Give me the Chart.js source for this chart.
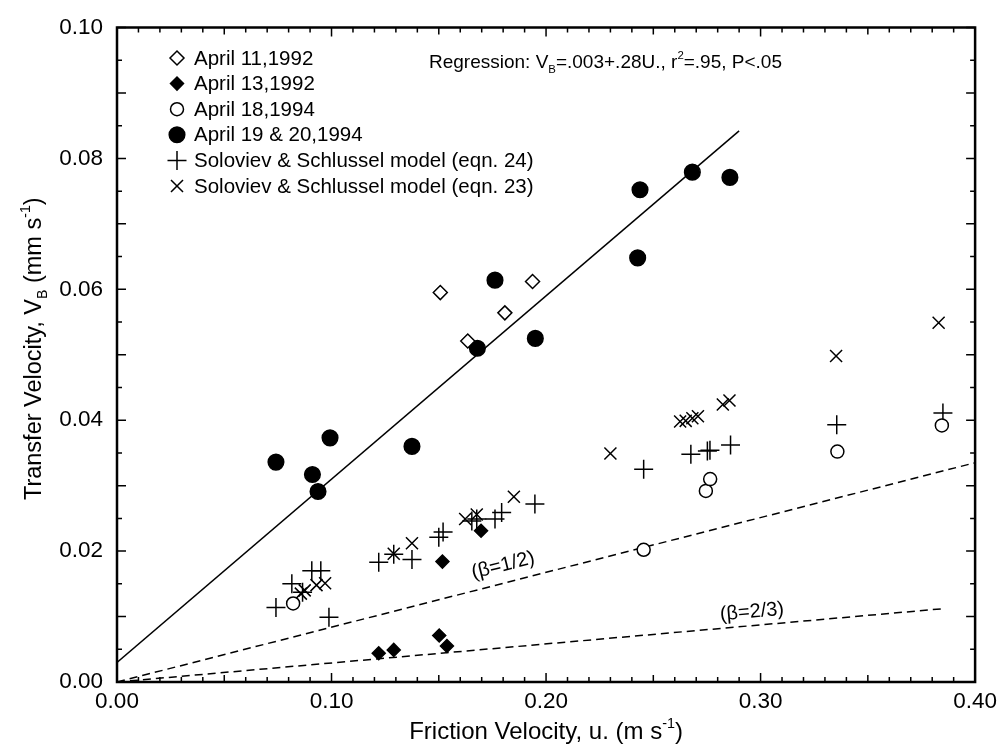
<!DOCTYPE html>
<html>
<head>
<meta charset="utf-8">
<script src="https://cdn.jsdelivr.net/npm/chart.js@4.4.1/dist/chart.umd.min.js"></script>
<style>
    body { margin: 0; background: #fff; }
    #wrap { width: 1003px; height: 746px; }
</style>
</head>
<body>
<div id="wrap"><canvas id="vbChart" width="1003" height="746"></canvas></div>
<script>

// April 11, 1992 (open diamonds)
const apr11 = [
    { x: 0.1507, y: 0.0595 }, { x: 0.1635, y: 0.0521 },
    { x: 0.1808, y: 0.0564 }, { x: 0.1937, y: 0.0612 }
];

// April 13, 1992 (filled diamonds)
const apr13 = [
    { x: 0.1220, y: 0.0044 }, { x: 0.1290, y: 0.0049 }, { x: 0.1502, y: 0.0071 },
    { x: 0.1538, y: 0.0055 }, { x: 0.1517, y: 0.0184 }, { x: 0.1697, y: 0.0231 }
];

// April 18, 1994 (open circles)
const apr18 = [
    { x: 0.0821, y: 0.0120 }, { x: 0.2455, y: 0.0202 }, { x: 0.2745, y: 0.0292 },
    { x: 0.2765, y: 0.0310 }, { x: 0.3358, y: 0.0352 }, { x: 0.3845, y: 0.0392 }
];

// April 19 & 20, 1994 (filled circles)
const apr1920 = [
    { x: 0.0741, y: 0.0336 }, { x: 0.0911, y: 0.0317 }, { x: 0.0937, y: 0.0291 },
    { x: 0.0993, y: 0.0373 }, { x: 0.1375, y: 0.0360 }, { x: 0.1680, y: 0.0510 },
    { x: 0.1762, y: 0.0614 }, { x: 0.1950, y: 0.0525 }, { x: 0.2427, y: 0.0648 },
    { x: 0.2438, y: 0.0752 }, { x: 0.2682, y: 0.0779 }, { x: 0.2857, y: 0.0771 }
];

// Soloviev & Schlussel model, eqn. 24 (plus)
const model24 = [
    { x: 0.0741, y: 0.0114 }, { x: 0.0815, y: 0.0150 }, { x: 0.0865, y: 0.0137 },
    { x: 0.0908, y: 0.0170 }, { x: 0.0950, y: 0.0170 }, { x: 0.0988, y: 0.0099 },
    { x: 0.1220, y: 0.0183 }, { x: 0.1290, y: 0.0195 }, { x: 0.1375, y: 0.0187 },
    { x: 0.1500, y: 0.0221 }, { x: 0.1520, y: 0.0229 }, { x: 0.1654, y: 0.0246 },
    { x: 0.1677, y: 0.0249 }, { x: 0.1762, y: 0.0249 }, { x: 0.1793, y: 0.0259 },
    { x: 0.1948, y: 0.0272 }, { x: 0.2455, y: 0.0325 }, { x: 0.2675, y: 0.0348 },
    { x: 0.2752, y: 0.0353 }, { x: 0.2764, y: 0.0354 }, { x: 0.2860, y: 0.0362 },
    { x: 0.3355, y: 0.0393 }, { x: 0.3850, y: 0.0411 }
];

// Soloviev & Schlussel model, eqn. 23 (x)
const model23 = [
    { x: 0.0857, y: 0.0135 }, { x: 0.0875, y: 0.0140 }, { x: 0.0930, y: 0.0148 },
    { x: 0.0970, y: 0.0151 }, { x: 0.1290, y: 0.0196 }, { x: 0.1375, y: 0.0212 },
    { x: 0.1623, y: 0.0249 }, { x: 0.1677, y: 0.0256 }, { x: 0.1850, y: 0.0283 },
    { x: 0.2300, y: 0.0349 }, { x: 0.2625, y: 0.0398 }, { x: 0.2651, y: 0.0399 },
    { x: 0.2682, y: 0.0403 }, { x: 0.2708, y: 0.0406 }, { x: 0.2824, y: 0.0424 },
    { x: 0.2855, y: 0.0430 }, { x: 0.3352, y: 0.0498 }, { x: 0.3830, y: 0.0549 }
];

// regression line and the two beta curves
const regressionLine = [{ x: 0, y: 0.0030 }, { x: 0.29, y: 0.0842 }];
const betaHalf = [{ x: 0, y: 0 }, { x: 0.40, y: 0.0335 }];
const betaTwoThirds = [{ x: 0, y: 0 }, { x: 0.385, y: 0.0112 }];

const xTickValues = [0, 0.1, 0.2, 0.3, 0.4];
const xTickLabels = ["0.00", "0.10", "0.20", "0.30", "0.40"];
const yTickValues = [0, 0.02, 0.04, 0.06, 0.08, 0.10];
const yTickLabels = ["0.00", "0.02", "0.04", "0.06", "0.08", "0.10"];

const legendLabels = [
    "April 11,1992",
    "April 13,1992",
    "April 18,1994",
    "April 19 & 20,1994",
    "Soloviev & Schlussel model (eqn. 24)",
    "Soloviev & Schlussel model (eqn. 23)"
];

const FONT = '"Liberation Sans", Arial, Helvetica, sans-serif';

function drawRich(ctx, parts, x, y, size, align) {
    // parts: [text, mode] with mode 0 normal, 1 subscript, 2 superscript
    let total = 0;
    parts.forEach(p => {
        ctx.font = (p[1] ? size * 0.6 : size) + "px " + FONT;
        total += ctx.measureText(p[0]).width;
    });
    let cx = align === "center" ? x - total / 2 : x;
    ctx.textAlign = "left";
    ctx.textBaseline = "alphabetic";
    parts.forEach(p => {
        const s = p[1] ? size * 0.6 : size;
        ctx.font = s + "px " + FONT;
        const dy = p[1] === 1 ? size * 0.25 : (p[1] === 2 ? -size * 0.45 : 0);
        ctx.fillText(p[0], cx, y + dy);
        cx += ctx.measureText(p[0]).width;
    });
}

const framePlugin = {
    id: "frameAndText",
    afterDatasetsDraw(chart) {
        const ctx = chart.ctx;
        const area = chart.chartArea;
        const xs = chart.scales.x;
        const ys = chart.scales.y;

        ctx.save();
        ctx.strokeStyle = "#000";
        ctx.lineWidth = 2.5;
        ctx.strokeRect(area.left, area.top, area.right - area.left, area.bottom - area.top);

        // inward ticks on all four sides
        ctx.lineWidth = 1.5;
        ctx.beginPath();
        for (let i = 0; i <= 40; i++) {
            const px = xs.getPixelForValue(i / 100);
            const len = i % 10 === 0 ? 9 : (i % 5 === 0 ? 7 : 5);
            ctx.moveTo(px, area.bottom);
            ctx.lineTo(px, area.bottom - len);
            ctx.moveTo(px, area.top);
            ctx.lineTo(px, area.top + len);
        }
        for (let j = 0; j <= 20; j++) {
            const py = ys.getPixelForValue(j / 200);
            const len = j % 2 === 0 ? 9 : 5;
            ctx.moveTo(area.left, py);
            ctx.lineTo(area.left + len, py);
            ctx.moveTo(area.right, py);
            ctx.lineTo(area.right - len, py);
        }
        ctx.stroke();

        ctx.fillStyle = "#000";

        // regression note
        drawRich(ctx, [
            ["Regression: V", 0], ["B", 1], ["=.003+.28U., r", 0], ["2", 2], ["=.95, P<.05", 0]
        ], 429, 68, 19, "left");

        // beta labels along the dashed curves
        const betaNotes = [
            { text: "(\u03b2=1/2)", x: 0.180, y: 0.0178, rot: -14 },
            { text: "(\u03b2=2/3)", x: 0.296, y: 0.0107, rot: -5 }
        ];
        betaNotes.forEach(n => {
            ctx.save();
            ctx.translate(xs.getPixelForValue(n.x), ys.getPixelForValue(n.y));
            ctx.rotate(n.rot * Math.PI / 180);
            ctx.font = "20px " + FONT;
            ctx.textAlign = "center";
            ctx.textBaseline = "middle";
            ctx.fillText(n.text, 0, 0);
            ctx.restore();
        });

        // axis titles
        drawRich(ctx, [["Friction Velocity, u. (m s", 0], ["-1", 2], [")", 0]],
            (area.left + area.right) / 2, 739, 24, "center");
        ctx.save();
        ctx.translate(41, (area.top + area.bottom) / 2 - 6);
        ctx.rotate(-Math.PI / 2);
        drawRich(ctx, [["Transfer Velocity, V", 0], ["B", 1], [" (mm s", 0], ["-1", 2], [")", 0]],
            0, 0, 23.5, "center");
        ctx.restore();

        // legend
        const sets = chart.data.datasets;
        legendLabels.forEach((label, i) => {
            const ds = sets[i];
            const y = 58 + i * 25.6;
            ctx.fillStyle = ds.pointBackgroundColor;
            ctx.strokeStyle = ds.pointBorderColor;
            ctx.lineWidth = ds.pointBorderWidth;
            if (Chart.helpers && Chart.helpers.drawPoint) {
                Chart.helpers.drawPoint(ctx, {
                    pointStyle: ds.pointStyle,
                    radius: ds.pointRadius,
                    borderWidth: ds.pointBorderWidth,
                    rotation: 0
                }, 177, y);
            }
            ctx.fillStyle = "#000";
            ctx.font = "20.5px " + FONT;
            ctx.textAlign = "left";
            ctx.textBaseline = "middle";
            ctx.fillText(label, 194, y + 1);
        });

        ctx.restore();
    }
};

function pointSet(label, data, style, radius, fill, order) {
    return {
        label: label,
        data: data,
        pointStyle: style,
        pointRadius: radius,
        pointHoverRadius: radius,
        pointBackgroundColor: fill,
        pointBorderColor: "#000",
        pointBorderWidth: 1.5,
        showLine: false,
        order: order
    };
}

function lineSet(label, data, dash) {
    return {
        label: label,
        data: data,
        showLine: true,
        borderColor: "#000",
        borderWidth: 1.5,
        borderDash: dash,
        pointRadius: 0,
        fill: false,
        order: 10
    };
}

new Chart(document.getElementById("vbChart"), {
    type: "scatter",
    data: {
        datasets: [
            pointSet(legendLabels[0], apr11, "rectRot", 7, "#fff", 1),
            pointSet(legendLabels[1], apr13, "rectRot", 6.5, "#000", 2),
            pointSet(legendLabels[2], apr18, "circle", 6.5, "#fff", 3),
            pointSet(legendLabels[3], apr1920, "circle", 7.8, "#000", 4),
            pointSet(legendLabels[4], model24, "cross", 9.5, "#000", 5),
            pointSet(legendLabels[5], model23, "crossRot", 8.5, "#000", 6),
            lineSet("Regression", regressionLine, []),
            lineSet("beta 1/2", betaHalf, [8, 5]),
            lineSet("beta 2/3", betaTwoThirds, [8, 5])
        ]
    },
    options: {
        responsive: false,
        animation: false,
        layout: {
            padding: { left: 0, right: 24, top: 24, bottom: 0 }
        },
        plugins: {
            legend: { display: false },
            tooltip: { enabled: false }
        },
        scales: {
            x: {
                type: "linear",
                min: 0,
                max: 0.4,
                grid: { display: false, drawTicks: false },
                border: { display: false },
                afterBuildTicks: s => { s.ticks = xTickValues.map(v => ({ value: v })); },
                afterFit: s => { s.height = 64; },
                ticks: {
                    padding: 6,
                    color: "#000",
                    font: { size: 22.5, family: FONT },
                    maxRotation: 0,
                    callback: (v, i) => xTickLabels[i]
                }
            },
            y: {
                type: "linear",
                min: 0,
                max: 0.1,
                grid: { display: false, drawTicks: false },
                border: { display: false },
                afterBuildTicks: s => { s.ticks = yTickValues.map(v => ({ value: v })); },
                afterFit: s => { s.width = 117; },
                ticks: {
                    padding: 14,
                    color: "#000",
                    font: { size: 22.5, family: FONT },
                    callback: (v, i) => yTickLabels[i]
                }
            }
        }
    },
    plugins: [framePlugin]
});
</script>
</body>
</html>
